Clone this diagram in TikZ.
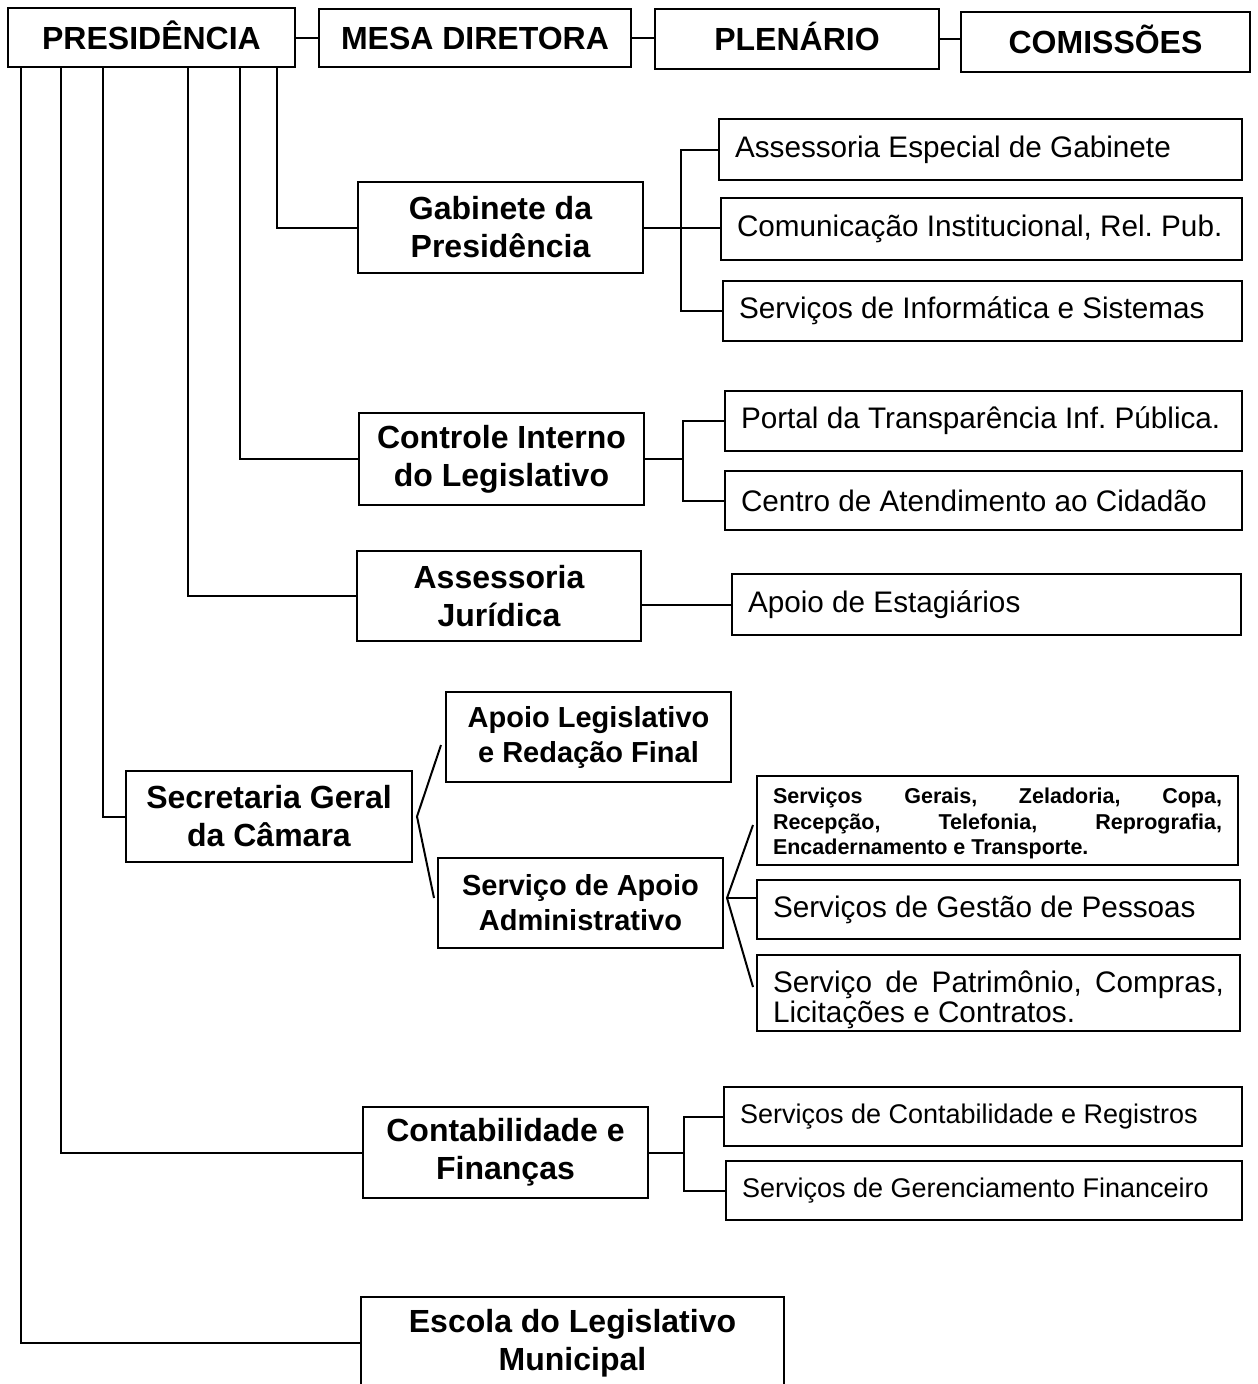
\documentclass[tikz,border=0pt]{standalone}
\usepackage{fontspec}
\setmainfont{Liberation Sans}
\begin{document}
\begin{tikzpicture}[x=1pt, y=-1pt, line width=2pt,
    caixa/.style={draw, rectangle, inner sep=0pt, align=flush center},
    topo/.style={caixa, text height=23pt, text depth=0pt, font=\fontsize{32}{38}\selectfont\bfseries},
    orgao/.style={caixa, font=\fontsize{32}{38}\selectfont\bfseries},
    setor/.style={caixa, font=\fontsize{29}{35}\selectfont\bfseries},
    servico/.style={draw, rectangle, inner xsep=16pt, inner ysep=0pt, align=flush left,
      font=\fontsize{29.7}{30}\selectfont\frenchspacing},
    miudo/.style={servico, font=\fontsize{21.5}{25.5}\selectfont\bfseries\frenchspacing},
    conta/.style={servico, font=\fontsize{27}{32}\selectfont\frenchspacing}]
  \path[use as bounding box, fill=white] (0,0) rectangle (1258,1384);

  % linha do topo
  \node[topo, minimum width=287, minimum height=59] (pres) at (151.5,37.5) {PRESIDÊNCIA};
  \node[topo, minimum width=312, minimum height=58] (mesa) at (475,38) {MESA DIRETORA};
  \node[topo, minimum width=284, minimum height=60] (plen) at (797,39) {PLENÁRIO};
  \node[topo, minimum width=289, minimum height=60] (comis) at (1105.5,42) {COMISSÕES};
  \draw (pres.east) -- (pres.east -| mesa.west);
  \draw (mesa.east) -- (mesa.east -| plen.west);
  \draw (plen.east) -- (plen.east -| comis.west);

  % orgaos ligados a presidencia
  \node[orgao, minimum width=285, minimum height=91] (gab) at (500.5,227.5) {Gabinete da\\Presidência};
  \node[orgao, minimum width=285, minimum height=92] (ctrl) at (501.5,459) {Controle Interno\\do Legislativo};
  \node[orgao, minimum width=284, minimum height=90] (jur) at (499,596) {Assessoria\\Jurídica};
  \node[orgao, minimum width=286, minimum height=91] (sec) at (269,816.5) {Secretaria Geral\\da Câmara};
  \node[orgao, minimum width=285, minimum height=91] (cont) at (505.5,1152.5) {Contabilidade e\\Finanças};
  \node[orgao, minimum width=423, minimum height=92] (esc) at (572.5,1343) {Escola do Legislativo\\Municipal};
  \draw ([xshift=270]pres.south west) |- (gab.west);
  \draw ([xshift=233]pres.south west) |- (ctrl.west);
  \draw ([xshift=181]pres.south west) |- (jur.west);
  \draw ([xshift=96]pres.south west) |- (sec.west);
  \draw ([xshift=54]pres.south west) |- (cont.west);
  \draw ([xshift=14]pres.south west) |- (esc.west);

  % gabinete
  \node[servico, text width=491, minimum height=61] (aeg) at (980.5,149.5) {Assessoria Especial de Gabinete};
  \node[servico, text width=489, minimum height=62] (com) at (981.5,229) {Comunicação Institucional, Rel. Pub.};
  \node[servico, text width=487, minimum height=60] (inf) at (982.5,311) {Serviços de Informática e Sistemas};
  \coordinate (gabj) at ([xshift=37]gab.east);
  \draw (gab.east) -- (gab.east -| com.west);
  \draw (aeg.west) -| (gabj) |- (inf.west);

  % controle interno
  \node[servico, text width=485, minimum height=60] (port) at (983.5,421) {Portal da Transparência Inf. Pública.};
  \node[servico, text width=485, minimum height=59] (cac) at (983.5,500.5) {Centro de Atendimento ao Cidadão};
  \coordinate (ctrlj) at ([xshift=38]ctrl.east);
  \draw (ctrl.east) -- (ctrlj);
  \draw (port.west) -| (ctrlj) |- (cac.west);

  % assessoria juridica
  \node[servico, text width=477, minimum height=61] (est) at (986.5,604.5) {Apoio de Estagiários};
  \draw (jur.east |- est.west) -- (est.west);

  % secretaria geral
  \node[setor, minimum width=285, minimum height=90] (leg) at (588.5,737) {Apoio Legislativo\\e Redação Final};
  \node[setor, minimum width=285, minimum height=90] (adm) at (580.5,903) {Serviço de Apoio\\Administrativo};
  \coordinate (secv) at ([xshift=4]sec.east);
  \draw ([xshift=-4,yshift=-8]leg.west) -- (secv) -- ([xshift=-3,yshift=5]adm.west);

  \node[miudo, text width=449, minimum height=89] (ger) at (997.5,820.5)
    {\rule{0pt}{22pt}\makebox[449pt][s]{Serviços Gerais, Zeladoria, Copa,}\\
     \makebox[449pt][s]{Recepção, Telefonia, Reprografia,}\\
     Encadernamento e Transporte.};
  \node[servico, text width=451, minimum height=59] (pes) at (998.5,909.5) {Serviços de Gestão de Pessoas};
  \node[servico, text width=451, minimum height=76] (pat) at (998.5,993)
    {\rule{0pt}{35pt}\makebox[451pt][s]{Serviço de Patrimônio, Compras,}\\Licitações e Contratos.};
  \coordinate (admv) at ([xshift=3,yshift=5]adm.east);
  \draw ([xshift=-3,yshift=-4.5]ger.west) -- (admv) -- ([xshift=-3,yshift=6]pat.west);
  \draw (admv) -- (admv -| pes.west);

  % contabilidade
  \node[conta, text width=486, minimum height=59] (creg) at (983,1116.5) {Serviços de Contabilidade e Registros};
  \node[conta, text width=484, minimum height=59] (cfin) at (984,1190.5) {Serviços de Gerenciamento Financeiro};
  \coordinate (contj) at ([xshift=35]cont.east);
  \draw (cont.east) -- (contj);
  \draw (creg.west) -| (contj) |- (cfin.west);
\end{tikzpicture}
\end{document}
